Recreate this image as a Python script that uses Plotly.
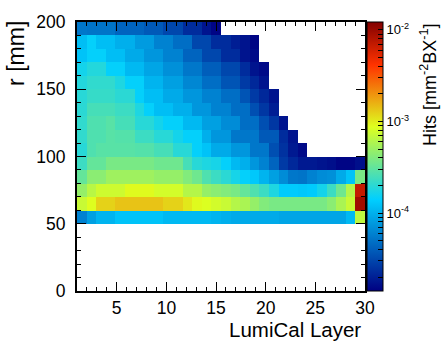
import math
import numpy as np
import plotly.graph_objects as go

# ---- data -------------------------------------------------------------
layer_edges = np.linspace(1, 30, 31)          # 30 layer bins drawn on [1, 30]
r_edges = list(range(50, 210, 10))             # r bins [mm], 50..200

# Hits [mm^-2 BX^-1] per layer (1..30) for each r bin
r050 = [6.0e-5, 8.3e-5, 1.04e-4, 1.04e-4, 1.23e-4, 1.23e-4, 1.23e-4, 1.23e-4, 1.23e-4, 1.1e-4,
        1.1e-4, 1.1e-4, 1.1e-4, 1.1e-4, 1.04e-4, 9.9e-5, 9.3e-5, 9.3e-5, 9.3e-5, 9.3e-5,
        9.3e-5, 8.8e-5, 8.8e-5, 8.8e-5, 8.8e-5, 8.8e-5, 8.8e-5, 8.8e-5, 1.1e-4, 6.7e-4]
r060 = [7.3e-4, 8.8e-4, 1.23e-3, 1.23e-3, 1.38e-3, 1.38e-3, 1.38e-3, 1.38e-3, 1.38e-3, 1.23e-3,
        1.23e-3, 1.05e-3, 9.1e-4, 8.6e-4, 7.9e-4, 7.3e-4, 6.2e-4, 5.7e-4, 4.8e-4, 4.1e-4,
        3.8e-4, 3.8e-4, 3.8e-4, 3.8e-4, 3.8e-4, 3.8e-4, 4.4e-4, 5.7e-4, 7.3e-4, 9.4e-3]
r070 = [4.8e-4, 6.4e-4, 7.6e-4, 7.6e-4, 7.6e-4, 9.0e-4, 9.0e-4, 9.0e-4, 8.0e-4, 8.0e-4,
        8.0e-4, 6.2e-4, 6.2e-4, 4.8e-4, 4.4e-4, 4.1e-4, 3.8e-4, 3.2e-4, 2.7e-4, 2.3e-4,
        1.8e-4, 1.35e-4, 1.35e-4, 1.3e-4, 1.35e-4, 1.66e-4, 2.3e-4, 3.5e-4, 6.2e-4, 6.9e-3]
r080 = [3.2e-4, 4.4e-4, 4.4e-4, 5.2e-4, 5.2e-4, 5.2e-4, 5.2e-4, 5.2e-4, 4.8e-4, 4.8e-4,
        4.8e-4, 4.1e-4, 3.5e-4, 2.7e-4, 2.3e-4, 2.0e-4, 1.7e-4, 1.45e-4, 1.3e-4, 1.04e-4,
        8.3e-5, 6.7e-5, 5.3e-5, 5.1e-5, 6.0e-5, 6.7e-5, 7.0e-5, 9.3e-5, 1.23e-4, 3.8e-4]
r090 = [2.3e-4, 3.2e-4, 3.2e-4, 3.8e-4, 3.8e-4, 3.8e-4, 3.8e-4, 3.8e-4, 3.5e-4, 3.5e-4,
        3.5e-4, 2.5e-4, 1.95e-4, 1.8e-4, 1.7e-4, 1.45e-4, 1.1e-4, 9.9e-5, 7.5e-5, 6.0e-5,
        4.3e-5, 2.7e-5, 2.2e-5, 1.86e-5, 1.86e-5, 1.76e-5, 1.66e-5, 1.49e-5, 1.49e-5, 1.66e-5]
r100 = [1.95e-4, 2.7e-4, 2.9e-4, 2.9e-4, 2.9e-4, 2.9e-4, 2.8e-4, 2.8e-4, 2.5e-4, 2.5e-4,
        1.95e-4, 1.95e-4, 1.45e-4, 1.23e-4, 9.3e-5, 9.3e-5, 7.5e-5, 7.5e-5, 5.3e-5, 5.3e-5,
        3.4e-5, 2.45e-5, 1.86e-5, 1.57e-5, None, None, None, None, None, None]
r110 = [2.1e-4, 2.7e-4, 2.7e-4, 2.9e-4, 2.8e-4, 2.8e-4, 2.3e-4, 2.3e-4, 1.95e-4, 1.95e-4,
        1.66e-4, 1.45e-4, 1.45e-4, 9.9e-5, 7.5e-5, 7.5e-5, 5.3e-5, 5.3e-5, 5.3e-5, 3.8e-5,
        3.8e-5, 2.3e-5, 1.76e-5, None, None, None, None, None, None, None]
r120 = [2.1e-4, 2.7e-4, 2.7e-4, 2.9e-4, 2.5e-4, 2.5e-4, 1.95e-4, 1.95e-4, 1.66e-4, 1.45e-4,
        1.45e-4, 1.1e-4, 1.1e-4, 8.3e-5, 8.3e-5, 6.7e-5, 6.7e-5, 4.8e-5, 4.8e-5, 3.4e-5,
        2.6e-5, 1.76e-5, None, None, None, None, None, None, None, None]
r130 = [2.0e-4, 2.5e-4, 2.5e-4, 2.5e-4, 2.3e-4, 2.3e-4, 1.8e-4, 1.45e-4, 1.16e-4, 1.16e-4,
        9.9e-5, 9.9e-5, 7.5e-5, 7.5e-5, 6.0e-5, 6.0e-5, 4.8e-5, 4.8e-5, 3.4e-5, 2.6e-5,
        1.96e-5, None, None, None, None, None, None, None, None, None]
r140 = [1.95e-4, 2.2e-4, 2.2e-4, 2.2e-4, 2.0e-4, 2.0e-4, 1.45e-4, 1.16e-4, 1.16e-4, 9.3e-5,
        9.3e-5, 7.5e-5, 7.5e-5, 6.0e-5, 6.0e-5, 4.8e-5, 4.8e-5, 3.6e-5, 2.7e-5, 2.2e-5,
        1.76e-5, None, None, None, None, None, None, None, None, None]
r150 = [1.87e-4, 2.1e-4, 2.1e-4, 2.1e-4, 1.8e-4, 1.45e-4, 1.45e-4, 1.04e-4, 1.04e-4, 8.3e-5,
        8.3e-5, 6.3e-5, 6.3e-5, 4.8e-5, 4.8e-5, 3.6e-5, 3.6e-5, 2.7e-5, 2.2e-5, 1.76e-5,
        None, None, None, None, None, None, None, None, None, None]
r160 = [1.66e-4, 1.87e-4, 1.87e-4, 1.45e-4, 1.45e-4, 1.1e-4, 1.1e-4, 8.8e-5, 8.8e-5, 7.0e-5,
        7.0e-5, 5.3e-5, 5.3e-5, 4.0e-5, 4.0e-5, 3.1e-5, 3.1e-5, 2.3e-5, 1.76e-5, 1.57e-5,
        None, None, None, None, None, None, None, None, None, None]
r170 = [1.23e-4, 1.45e-4, 1.45e-4, 1.16e-4, 1.16e-4, 9.3e-5, 9.3e-5, 7.5e-5, 7.5e-5, 6.0e-5,
        6.0e-5, 4.3e-5, 4.3e-5, 3.1e-5, 3.1e-5, 2.3e-5, 2.3e-5, 1.76e-5, 1.57e-5, None,
        None, None, None, None, None, None, None, None, None, None]
r180 = [1.16e-4, 1.45e-4, 1.16e-4, 1.16e-4, 9.9e-5, 9.9e-5, 7.9e-5, 7.9e-5, 6.0e-5, 6.0e-5,
        4.8e-5, 4.8e-5, 3.1e-5, 3.1e-5, 2.3e-5, 2.3e-5, 1.96e-5, 1.76e-5, 1.49e-5, None,
        None, None, None, None, None, None, None, None, None, None]
r190 = [5.3e-5, 5.1e-5, 5.1e-5, 5.1e-5, 4.3e-5, 4.3e-5, 4.3e-5, 3.8e-5, 3.8e-5, 3.1e-5,
        3.1e-5, 2.3e-5, 2.3e-5, 1.76e-5, 1.49e-5, None, None, None, None, None,
        None, None, None, None, None, None, None, None, None, None]

hits_min, hits_max = 1.41e-5, 1.22e-2
x_tick_vals = [5, 10, 15, 20, 25, 30]
y_tick_vals = [0, 50, 100, 150, 200]
cbar_major = {-4: "10<sup>-4</sup>", -3: "10<sup>-3</sup>", -2: "10<sup>-2</sup>"}

# ---- figure -----------------------------------------------------------
rows = [r050, r060, r070, r080, r090, r100, r110, r120, r130, r140, r150, r160, r170, r180, r190]
z = [[math.log10(v) if v is not None else None for v in row] for row in rows]

zmin, zmax = math.log10(hits_min), math.log10(hits_max)
tickvals, ticktext = [], []
for e in range(-5, -1):
    for k in range(1, 10):
        lv = math.log10(k * 10.0 ** e)
        if zmin <= lv <= zmax:
            tickvals.append(lv)
            ticktext.append(cbar_major.get(e, "") if k == 1 else " ")

colorscale = [
    [0.00, "rgb(0,0,130)"],
    [0.34, "rgb(0,207,255)"],
    [0.61, "rgb(222,255,31)"],
    [0.84, "rgb(255,51,0)"],
    [1.00, "rgb(130,0,0)"],
]

FONT = "Liberation Sans, Arial, Helvetica, sans-serif"

fig = go.Figure(go.Heatmap(
    x=layer_edges, y=r_edges, z=z,
    zmin=zmin, zmax=zmax, colorscale=colorscale,
    hoverongaps=False,
    colorbar=dict(
        x=1.007, xanchor="left", y=0.5, yanchor="middle",
        len=1, lenmode="fraction", thickness=16, thicknessmode="pixels",
        xpad=0, ypad=0, outlinewidth=1, outlinecolor="black",
        tickmode="array", tickvals=tickvals, ticktext=ticktext,
        ticks="inside", ticklen=5, tickwidth=1, tickcolor="black",
        tickfont=dict(size=13, family=FONT, color="black"),
    ),
))

axis_common = dict(
    showgrid=False, zeroline=False, showline=True, linecolor="black", linewidth=2,
    mirror="ticks", ticks="inside", ticklen=9, tickwidth=1, tickcolor="black",
    tickfont=dict(size=17.5, family=FONT, color="black"),
)
fig.update_xaxes(range=[1, 30], tickmode="array", tickvals=x_tick_vals,
                 minor=dict(ticks="inside", ticklen=4, tickcolor="black", dtick=1, tick0=0),
                 ticklabelstandoff=0, **axis_common)
fig.update_yaxes(range=[0, 200], tickmode="array", tickvals=y_tick_vals,
                 minor=dict(ticks="inside", ticklen=4, tickcolor="black", dtick=10, tick0=0),
                 ticklabelstandoff=6, **axis_common)

fig.update_layout(
    width=442, height=343,
    margin=dict(l=77, r=77, t=13, b=52),
    paper_bgcolor="white", plot_bgcolor="white",
    font=dict(family=FONT, color="black"),
    annotations=[
        dict(text="LumiCal Layer", xref="paper", yref="paper", x=0.99, y=-0.144,
             xanchor="right", yanchor="middle", showarrow=False, borderpad=0,
             font=dict(size=20.5, family=FONT, color="black")),
        dict(text="r [mm]", xref="paper", yref="paper", x=-0.212, y=0.885,
             xanchor="center", yanchor="middle", textangle=-90, showarrow=False,
             font=dict(size=23, family=FONT, color="black")),
        dict(text="Hits [mm<sup>-2</sup>BX<sup>-1</sup>]", xref="paper", yref="paper",
             x=1.222, y=0.766, xanchor="center", yanchor="middle", textangle=-90,
             showarrow=False, font=dict(size=18, family=FONT, color="black")),
    ],
)

fig.write_html("out.html")
